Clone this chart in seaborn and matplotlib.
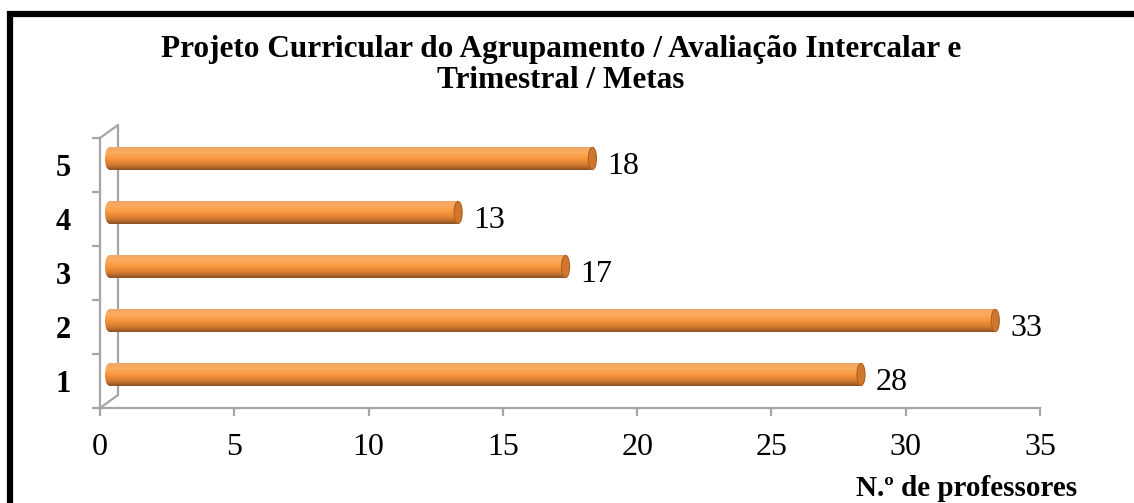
import numpy as np
import seaborn as sns
import matplotlib.pyplot as plt
from matplotlib.patches import Rectangle, Ellipse
from matplotlib.colors import LinearSegmentedColormap
from matplotlib.transforms import ScaledTranslation
from matplotlib.ticker import FixedLocator

# data
categorias = ['1', '2', '3', '4', '5']
professores = [28, 33, 17, 13, 18]
ordem = ['5', '4', '3', '2', '1']
x_ticks = [0, 5, 10, 15, 20, 25, 30, 35]

titulo = 'Projeto Curricular do Agrupamento / Avaliação Intercalar e\nTrimestral / Metas'
x_titulo = 'N.º de professores'

sns.set_theme(style='white')
plt.rcParams['font.family'] = ['Liberation Serif', 'DejaVu Serif']
plt.rcParams['text.color'] = 'black'
plt.rcParams['xtick.color'] = 'black'
plt.rcParams['ytick.color'] = 'black'

W, H, DPI = 1134, 503, 100
fig = plt.figure(figsize=(W / DPI, H / DPI), dpi=DPI)
ax = fig.add_axes([100 / W, 1 - 408 / H, 940 / W, 270 / H])

sns.barplot(x=professores, y=categorias, order=ordem, orient='h',
            width=0.41, color='#f79646', ax=ax, zorder=3)

ax.set_xlim(0, 35)
ax.set_ylim(4.5, -0.5)
ax.set_xlabel('')
ax.set_ylabel('')

grey = '#a6a6a6'
# 3D depth of the Excel frame, in pixels
dx, dy = 18, 13
back = ax.transAxes + ScaledTranslation(dx / DPI, dy / DPI, fig.dpi_scale_trans)
half = ax.transData + ScaledTranslation(dx / 2 / DPI, dy / 2 / DPI, fig.dpi_scale_trans)

# back wall edge and the two diagonals
ax.plot([0, 0], [0, 1], color=grey, lw=1.6, transform=back, clip_on=False)
ax.plot([0, dx / 940], [1, 1 + dy / 270], color=grey, lw=1.6,
        transform=ax.transAxes, clip_on=False)
ax.plot([0, dx / 940], [0, dy / 270], color=grey, lw=1.6,
        transform=ax.transAxes, clip_on=False)

for s in ['top', 'right']:
    ax.spines[s].set_visible(False)
for s in ['left', 'bottom']:
    ax.spines[s].set_color(grey)
    ax.spines[s].set_linewidth(1.6)

ax.set_xticks(x_ticks)
ax.tick_params(axis='x', direction='out', length=6, width=1.6, color=grey,
               labelcolor='black', pad=12, labelsize=23, bottom=True)
ax.yaxis.set_minor_locator(FixedLocator(np.arange(-0.5, 5, 1)))
ax.tick_params(axis='y', which='minor', direction='out', length=6, width=1.6,
               color=grey, left=True)
ax.tick_params(axis='y', which='major', length=0, pad=21, labelsize=22,
               labelcolor='black')
for lab in ax.get_yticklabels():
    lab.set_fontweight('bold')

# cylinder shading
cmap = LinearSegmentedColormap.from_list('cil', [
    (0.0, '#f2a468'), (0.22, '#fbac5e'), (0.5, '#f8973e'),
    (0.78, '#d27a30'), (1.0, '#8a5225')])
grad = np.linspace(0, 1, 64).reshape(-1, 1)
cap_w = 0.3  # ellipse width in data units

for p in ax.patches:
    x0, y0 = p.get_x(), p.get_y()
    w, h = p.get_width(), p.get_height()
    p.set_transform(half)
    p.set_edgecolor('none')
    left = Ellipse((x0, y0 + h / 2), cap_w, h, transform=half,
                   facecolor='none', edgecolor='none')
    ax.add_patch(left)
    for clip in (p, left):
        im = ax.imshow(grad, cmap=cmap, aspect='auto',
                       extent=(x0 - cap_w, x0 + w, y0 + h, y0),
                       transform=half, zorder=4, interpolation='bilinear')
        im.set_clip_path(clip)
    ax.add_patch(Ellipse((x0 + w, y0 + h / 2), cap_w, h, transform=half,
                         facecolor='#cf7630', edgecolor='#b0601c', lw=0.8,
                         zorder=5))
    ax.annotate(f'{w:g}', (x0 + w, y0 + h / 2), xytext=(24, -1),
                textcoords='offset pixels', ha='left', va='center',
                fontsize=23, color='black', zorder=6)

ax.set_xlim(0, 35)
ax.set_ylim(4.5, -0.5)

fig.text(561 / W, 1 - 65 / H, titulo, ha='center', va='center',
         fontsize=22.5, fontweight='bold', linespacing=1.12)
fig.text(1077 / W, 1 - 488 / H, x_titulo, ha='right', va='center',
         fontsize=21, fontweight='bold')

# thick black frame (only top and left visible in the crop)
fig.patches.append(Rectangle((10 / W, -0.2), 1.2, 1.2 - 14 / H,
                             transform=fig.transFigure, fill=False,
                             edgecolor='black', linewidth=4.5))

fig.savefig('out.png', dpi=DPI)
